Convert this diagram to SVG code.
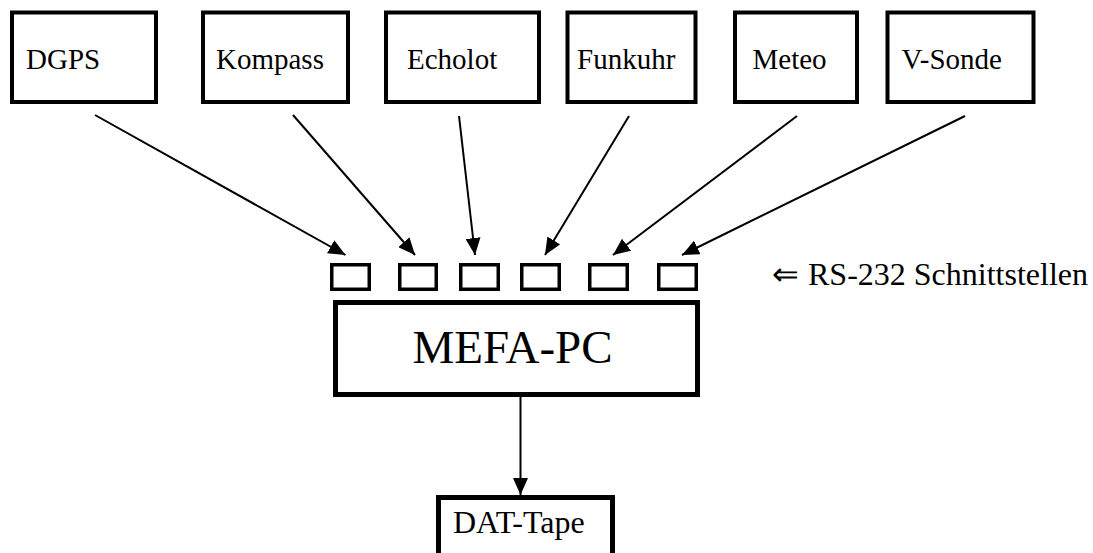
<svg xmlns="http://www.w3.org/2000/svg" width="1093" height="553" viewBox="0 0 1093 553">
  <style>
    .box { fill: #ffffff; stroke: #000000; stroke-width: 4; }
    .port { fill: #ffffff; stroke: #000000; stroke-width: 3.5; }
    .main { fill: #ffffff; stroke: #000000; stroke-width: 5; }
    .lbl { font-family: "Liberation Serif", "Times New Roman", serif; font-size: 29px; fill: #000000; }
    .big { font-family: "Liberation Serif", "Times New Roman", serif; font-size: 47px; fill: #000000; }
    .mid { font-family: "Liberation Serif", "Times New Roman", serif; font-size: 32px; fill: #000000; }
    .wire { stroke: #000000; stroke-width: 2; fill: none; marker-end: url(#head); }
  </style>
  <defs>
    <marker id="head" markerWidth="17" markerHeight="15" refX="17" refY="7.5" orient="auto" markerUnits="userSpaceOnUse">
      <path d="M0,0 L17,7.5 L0,15 Z" fill="#000000"/>
    </marker>
  </defs>
  <rect width="1093" height="553" fill="#ffffff"/>

  <!-- sensors -->
  <g id="dgps">
    <rect class="box" x="12" y="12.5" width="144" height="89.5"/>
    <text class="lbl" x="26" y="69">DGPS</text>
  </g>
  <g id="kompass">
    <rect class="box" x="203" y="12.5" width="145" height="89.5"/>
    <text class="lbl" x="216" y="69">Kompass</text>
  </g>
  <g id="echolot">
    <rect class="box" x="386" y="12.5" width="153" height="89.5"/>
    <text class="lbl" x="407" y="69">Echolot</text>
  </g>
  <g id="funkuhr">
    <rect class="box" x="567.5" y="12.5" width="128" height="89.5"/>
    <text class="lbl" x="577" y="69">Funkuhr</text>
  </g>
  <g id="meteo">
    <rect class="box" x="735" y="12.5" width="122" height="89.5"/>
    <text class="lbl" x="752.5" y="69">Meteo</text>
  </g>
  <g id="v-sonde">
    <rect class="box" x="887.5" y="12.5" width="146" height="89.5"/>
    <text class="lbl" x="901.5" y="69">V-Sonde</text>
  </g>

  <!-- serial ports -->
  <g id="ports">
    <rect class="port" x="331.75" y="264.75" width="37.5" height="24.5"/>
    <rect class="port" x="399.75" y="264.75" width="36.5" height="24.5"/>
    <rect class="port" x="460.75" y="264.75" width="37.5" height="24.5"/>
    <rect class="port" x="521.75" y="264.75" width="37.5" height="24.5"/>
    <rect class="port" x="589.75" y="264.75" width="37.5" height="24.5"/>
    <rect class="port" x="658.75" y="264.75" width="37.5" height="24.5"/>
  </g>
  <g id="rs232-label">
    <text class="mid" x="772" y="285">⇐<tspan x="808">RS-232 Schnittstellen</tspan></text>
  </g>

  <!-- central computer -->
  <g id="mefa-pc">
    <rect class="main" x="335.5" y="302.5" width="362" height="92"/>
    <text class="big" x="512.5" y="363" text-anchor="middle">MEFA-PC</text>
  </g>

  <!-- recorder -->
  <g id="dat-tape">
    <rect class="main" x="438.5" y="497.5" width="174" height="70"/>
    <text class="mid" x="453" y="533">DAT-Tape</text>
  </g>

  <!-- connectors -->
  <g id="connectors">
    <line class="wire" x1="95" y1="115" x2="345.5" y2="255"/>
    <line class="wire" x1="293" y1="115" x2="415" y2="255"/>
    <line class="wire" x1="459" y1="116" x2="475" y2="255"/>
    <line class="wire" x1="629" y1="116" x2="545" y2="255"/>
    <line class="wire" x1="797" y1="116" x2="613" y2="255"/>
    <line class="wire" x1="965" y1="116" x2="682" y2="255"/>
    <line class="wire" x1="520.5" y1="397" x2="520.5" y2="495"/>
  </g>
</svg>
